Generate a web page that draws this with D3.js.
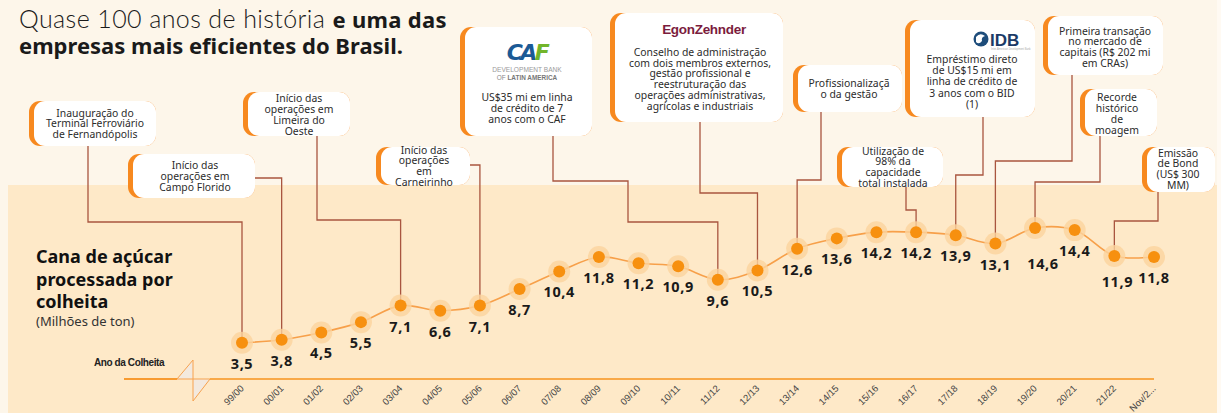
<!DOCTYPE html>
<html><head><meta charset="utf-8">
<script src="https://cdn.jsdelivr.net/npm/d3@7"></script>
<style>
html,body{margin:0;padding:0;background:#fff;}
svg{display:block;}
</style></head><body>
<svg id="chart" width="1221" height="413"></svg>
<script>
// Harvest seasons and crushed sugarcane (millions of tonnes)
const seasons = ["99/00","00/01","01/02","02/03","03/04","04/05","05/06","06/07","07/08","08/09","09/10","10/11","11/12","12/13","13/14","14/15","15/16","16/17","17/18","18/19","19/20","20/21","21/22","Nov/22"];
const tickLabels = ["99/00","00/01","01/02","02/03","03/04","04/05","05/06","06/07","07/08","08/09","09/10","10/11","11/12","12/13","13/14","14/15","15/16","16/17","17/18","18/19","19/20","20/21","21/22","Nov/2..."];
const crushed = [3.5,3.8,4.5,5.5,7.1,6.6,7.1,8.7,10.4,11.8,11.2,10.9,9.6,10.5,12.6,13.6,14.2,14.2,13.9,13.1,14.6,14.4,11.9,11.8];

// Milestones attached to a season
const milestoneSeasons = ["99/00","00/01","03/04","05/06","11/12","12/13","13/14","16/17","17/18","18/19","19/20","21/22"];
const milestoneTexts = [
  ["Inauguração do","Terminal Ferroviário","de Fernandópolis"],
  ["Início das","operações em","Campo Florido"],
  ["Início das","operações em","Limeira do","Oeste"],
  ["Início das","operações","em","Carneirinho"],
  ["US$35 mi em linha","de crédito de 7","anos com o CAF"],
  ["Conselho de administração","com dois membros externos,","gestão profissional e","reestruturação das","operações administrativas,","agrícolas e industriais"],
  ["Profissionalizaçã","o da gestão"],
  ["Utilização de","98% da","capacidade","total instalada"],
  ["Empréstimo direto","de US$15 mi em","linha de crédito de","3 anos com o BID","(1)"],
  ["Primeira transação","no mercado de","capitais (R$ 202 mi","em CRAs)"],
  ["Recorde","histórico","de","moagem"],
  ["Emissão","de Bond","(US$ 300","MM)"]
];

const FONT = "'Noto Sans', 'Open Sans', sans-serif";
const svg = d3.select("#chart");

// Backgrounds
svg.append("rect").attr("x",0).attr("y",0).attr("width",1221).attr("height",413).attr("fill","#fdf6ea");
svg.append("rect").attr("x",8).attr("y",185).attr("width",1209).attr("height",228).attr("fill","#fee9c8");
svg.append("rect").attr("x",1217).attr("y",0).attr("width",4).attr("height",413).attr("fill","#fffaf3");

const x = d3.scalePoint().domain(seasons).range([242, 1154]);
const y = d3.scaleLinear().domain([0, 15]).range([379, 223.9]);
const byseason = new Map(seasons.map((s, i) => [s, crushed[i]]));

// Title
const title = svg.append("text").attr("font-size", 22).attr("fill", "#1a1a1a");
title.append("tspan").attr("x", 19).attr("y", 28).attr("font-family", "'Lato', sans-serif")
  .attr("font-weight", 300).attr("font-size", 25).attr("letter-spacing", 0.4).text("Quase 100 anos de história ");
title.append("tspan").attr("font-family", FONT).attr("font-weight", 700).attr("letter-spacing", 0.3).text("e uma das");
title.append("tspan").attr("x", 19).attr("y", 54).attr("font-family", FONT).attr("font-weight", 700)
  .text("empresas mais eficientes do Brasil.");

// Series caption
const cap = svg.append("text").attr("font-family", FONT).attr("fill", "#111");
["Cana de açúcar","processada por","colheita"].forEach((t, i) => {
  cap.append("tspan").attr("x", 36).attr("y", 263 + i * 22.5).attr("font-size", 18).attr("font-weight", 700).text(t);
});
cap.append("tspan").attr("x", 36).attr("y", 326).attr("font-size", 13).attr("fill", "#333").text("(Milhões de ton)");

svg.append("text").attr("x", 94).attr("y", 366)
  .attr("font-family", "'Liberation Sans Narrow','Liberation Sans',sans-serif")
  .attr("font-size", 10).attr("font-weight", 700).attr("letter-spacing", -0.4).attr("fill", "#222")
  .text("Ano da Colheita");

// Callout layout: box, text block and connector route to its season's point
const layout = {
  "99/00": {box:[29,101,127,45], cx:95, ty:113, lh:10.6, from:[88,146], via:[[88,222]]},
  "00/01": {box:[128,154,127,44], cx:195, ty:165, lh:11, from:[255,178], via:[]},
  "03/04": {box:[243,92,107,44], cx:299, ty:98, lh:11, from:[317,136], via:[[317,220]]},
  "05/06": {box:[376,147,94,38], cx:424, ty:150, lh:10.7, from:[470,165], via:[]},
  "11/12": {box:[460,27,132,109], cx:527, ty:97, lh:11, from:[553,136], via:[[553,181],[628,181],[628,222]], logo:"caf"},
  "12/13": {box:[610,13,173,109], cx:700, ty:52, lh:10.8, from:[700,122], via:[[700,193]], logo:"egon"},
  "13/14": {box:[793,65,109,47], cx:849, ty:83, lh:11, from:[821,112], via:[[821,180]]},
  "16/17": {box:[837,147,106,40], cx:893, ty:151, lh:10.7, from:[906,187], via:[[906,210]]},
  "17/18": {box:[905,20,130,97], cx:972, ty:59, lh:11.3, from:[983,117], via:[[983,175]], logo:"idb"},
  "18/19": {box:[1043,16,120,59], cx:1105, ty:31, lh:10.7, from:[1072,75], via:[[1072,161]]},
  "19/20": {box:[1080,89,77,47], cx:1117, ty:97, lh:11, from:[1100,136], via:[[1100,182]]},
  "21/22": {box:[1142,147,73,45], cx:1178, ty:153, lh:10.7, from:[1158,192], via:[[1158,221]]}
};

// Connectors (under the boxes and points)
const gConn = svg.append("g");
milestoneSeasons.forEach(s => {
  const L = layout[s];
  const px = x(s), py = y(byseason.get(s));
  const lastY = L.via.length ? L.via[L.via.length - 1][1] : L.from[1];
  const pts = [L.from, ...L.via, [px, lastY], [px, py]];
  gConn.append("path").attr("d", d3.line()(pts))
    .attr("fill", "none").attr("stroke", "#a9553f").attr("stroke-width", 1.3);
});

// Callout boxes
const gBox = svg.append("g");
milestoneSeasons.forEach((s, i) => {
  const L = layout[s];
  const [bx, by, bw, bh] = L.box;
  const g = gBox.append("g");
  g.append("rect").attr("x", bx).attr("y", by).attr("width", bw).attr("height", bh).attr("rx", 11).attr("fill", "#f7891f");
  g.append("rect").attr("x", bx + 5).attr("y", by).attr("width", bw - 5).attr("height", bh).attr("rx", 11).attr("fill", "#ffffff");
  const t = g.append("text").attr("font-family", FONT).attr("font-size", 10.4).attr("fill", "#2b2b2b").attr("text-anchor", "middle");
  milestoneTexts[i].forEach((line, k) => {
    t.append("tspan").attr("x", L.cx).attr("y", L.ty + k * L.lh).attr("dy", "0.36em").text(line);
  });
  if (L.logo === "caf") drawCaf(g, 527, 60);
  if (L.logo === "egon") {
    g.append("text").attr("x", 704).attr("y", 34).attr("text-anchor", "middle")
      .attr("font-family", "'Liberation Sans',sans-serif").attr("font-size", 13.5).attr("font-weight", 600)
      .attr("letter-spacing", -0.3).attr("fill", "#7b1c3d").text("EgonZehnder");
  }
  if (L.logo === "idb") drawIdb(g, 981, 39);
});

function drawCaf(g, cx, base) {
  const t = g.append("text").attr("x", cx).attr("y", base).attr("text-anchor", "middle")
    .attr("font-family", "'DejaVu Sans',sans-serif").attr("font-size", 22).attr("font-weight", 700)
    .attr("font-style", "italic").attr("letter-spacing", -2.5);
  t.append("tspan").attr("fill", "#1b5a95").text("CA");
  t.append("tspan").attr("fill", "#72b52a").text("F");
  g.append("text").attr("x", cx).attr("y", base + 12).attr("text-anchor", "middle")
    .attr("font-family", "'Liberation Sans',sans-serif").attr("font-size", 6.6).attr("fill", "#9a9a9a")
    .text("DEVELOPMENT BANK");
  const t2 = g.append("text").attr("x", cx).attr("y", base + 20).attr("text-anchor", "middle")
    .attr("font-family", "'Liberation Sans',sans-serif").attr("font-size", 6.4).attr("fill", "#8a8a8a");
  t2.append("tspan").text("OF ");
  t2.append("tspan").attr("font-weight", 700).attr("fill", "#777").text("LATIN AMERICA");
}

function drawIdb(g, cx, cy) {
  g.append("circle").attr("cx", cx).attr("cy", cy).attr("r", 7.5).attr("fill", "#1e4d7b");
  g.append("path").attr("d", `M${cx-5},${cy-2} q4,-5 9,-1 q-4,1 -3,5 q-3,4 -6,1 z`).attr("fill", "#ffffff");
  g.append("text").attr("x", cx + 9).attr("y", cy + 7).attr("font-family", "'Liberation Sans',sans-serif")
    .attr("font-size", 17).attr("font-weight", 700).attr("fill", "#1b3a66").text("IDB");
  g.append("text").attr("x", cx + 10).attr("y", cy + 10.5).attr("font-family", "'Liberation Sans',sans-serif")
    .attr("font-size", 2.6).attr("fill", "#aaa").text("Inter-American Development Bank");
}

// Baseline with axis break
const base = y(0);
const gAxisLine = svg.append("g");
gAxisLine.append("path").attr("d", `M124,${base} L177,${base} L193,${base-19} L193,${base} Z`)
  .attr("fill", "#f3e9de").attr("stroke", "#f7a24f").attr("stroke-width", 1);
gAxisLine.append("path").attr("d", `M193,${base} L193,${base+22} L210,${base} Z`)
  .attr("fill", "#f3e9de").attr("stroke", "#f7a24f").attr("stroke-width", 1);
gAxisLine.append("line").attr("x1", 210).attr("x2", x(seasons[seasons.length-1])).attr("y1", base).attr("y2", base)
  .attr("stroke", "#f7931e").attr("stroke-width", 1.5);
gAxisLine.append("line").attr("x1", 124).attr("x2", 177).attr("y1", base).attr("y2", base)
  .attr("stroke", "#f7931e").attr("stroke-width", 1.5);

// Season tick labels
const xAxis = d3.axisBottom(x).tickSize(0).tickFormat((d, i) => tickLabels[i]);
const gx = svg.append("g").attr("transform", `translate(0,${base})`).call(xAxis);
gx.select(".domain").remove();
gx.selectAll("text")
  .attr("font-family", "'Liberation Sans',sans-serif").attr("font-size", 9.5).attr("fill", "#444")
  .attr("text-anchor", "end").attr("dy", null).attr("y", 0)
  .attr("transform", "translate(2,10) rotate(-45)");

// Line
svg.append("path").datum(crushed)
  .attr("d", d3.line().x((d, i) => x(seasons[i])).y(d => y(d)).curve(d3.curveCatmullRom.alpha(0.5)))
  .attr("fill", "none").attr("stroke", "#f7a04a").attr("stroke-width", 1.6);

// Points
const gPts = svg.append("g");
gPts.selectAll("circle.halo").data(crushed).join("circle").attr("class", "halo")
  .attr("cx", (d, i) => x(seasons[i])).attr("cy", d => y(d)).attr("r", 11).attr("fill", "#fbd39d").attr("opacity", 0.8);
gPts.selectAll("circle.dot").data(crushed).join("circle").attr("class", "dot")
  .attr("cx", (d, i) => x(seasons[i])).attr("cy", d => y(d)).attr("r", 6).attr("fill", "#f7900f");

// Value labels (a couple nudged to clear the line)
const labelNudge = {"19/20": [8, 15], "21/22": [3, 5]};
svg.append("g").selectAll("text").data(crushed).join("text")
  .attr("x", (d, i) => x(seasons[i]) + (labelNudge[seasons[i]] ? labelNudge[seasons[i]][0] : 0))
  .attr("y", (d, i) => y(d) + 26 + (labelNudge[seasons[i]] ? labelNudge[seasons[i]][1] : 0))
  .attr("text-anchor", "middle").attr("font-family", FONT).attr("font-size", 14.5).attr("font-weight", 700)
  .attr("letter-spacing", 0.6).attr("fill", "#1a1a1a")
  .text(d => d.toFixed(1).replace(".", ","));
</script>
</body></html>
